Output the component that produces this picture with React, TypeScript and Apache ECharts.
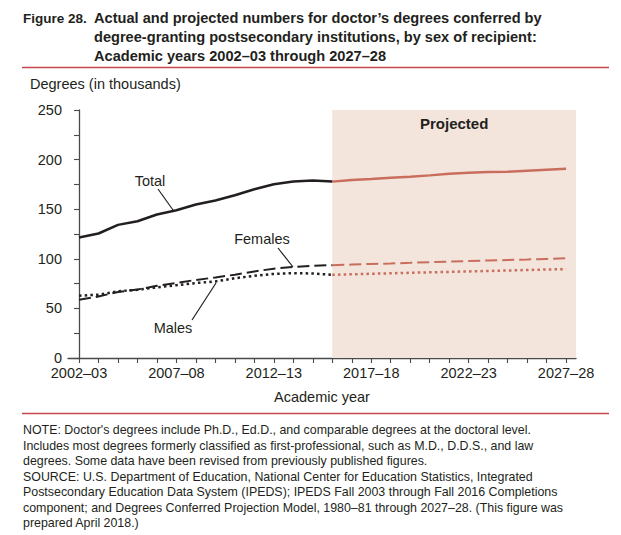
import React, { useEffect, useRef } from "react";
import * as echarts from "echarts";

const years = [
  "2002–03", "2003–04", "2004–05", "2005–06", "2006–07", "2007–08", "2008–09",
  "2009–10", "2010–11", "2011–12", "2012–13", "2013–14", "2014–15", "2015–16",
  "2016–17", "2017–18", "2018–19", "2019–20", "2020–21", "2021–22", "2022–23",
  "2023–24", "2024–25", "2025–26", "2026–27", "2027–28",
];
const labeledYears = ["2002–03", "2007–08", "2012–13", "2017–18", "2022–23", "2027–28"];

// actual: 2002–03 .. 2015–16 ; projected: 2015–16 .. 2027–28 (thousands)
const totalActual = [121.5, 125.5, 134.2, 137.8, 144.7, 148.9, 154.8, 158.8, 164.0, 170.1, 175.2, 178.0, 178.9, 177.8];
const femalesActual = [58.7, 62.0, 66.6, 69.0, 72.8, 75.7, 78.7, 81.2, 84.0, 87.3, 90.0, 91.8, 93.0, 93.6];
const malesActual = [62.8, 63.8, 67.2, 68.8, 71.2, 73.4, 75.6, 77.2, 80.4, 82.9, 84.8, 85.5, 85.2, 83.8];
const totalProjected = [177.8, 179.4, 180.4, 181.8, 182.8, 184.1, 185.8, 186.8, 187.5, 187.8, 188.8, 189.8, 190.8];
const femalesProjected = [93.6, 94.2, 94.8, 95.3, 95.9, 96.6, 97.2, 97.7, 98.3, 98.8, 99.3, 99.9, 100.5];
const malesProjected = [83.8, 84.4, 84.9, 85.4, 85.9, 86.4, 86.8, 87.3, 87.7, 88.2, 88.7, 89.2, 89.6];

const titleLines = [
  "Actual and projected numbers for doctor’s degrees conferred by",
  "degree-granting postsecondary institutions, by sex of recipient:",
  "Academic years 2002–03 through 2027–28",
];
const noteLines = [
  "NOTE: Doctor's degrees include Ph.D., Ed.D., and comparable degrees at the doctoral level.",
  "Includes most degrees formerly classified as first-professional, such as M.D., D.D.S., and law",
  "degrees. Some data have been revised from previously published figures.",
  "SOURCE: U.S. Department of Education, National Center for Education Statistics, Integrated",
  "Postsecondary Education Data System (IPEDS); IPEDS Fall 2003 through Fall 2016 Completions",
  "component; and Degrees Conferred Projection Model, 1980–81 through 2027–28. (This figure was",
  "prepared April 2018.)",
];

const FONT = "'Liberation Sans', Arial, Helvetica, sans-serif";
const INK = "#231f20";
const PROJ = "#c96d5c";
const RULE = "#c5474e";
const AXIS = "#4a4a4a";
const X_MIN = -0.565;
const X_MAX = 25.51;
const PROJ_START = totalActual.length - 1;
const AX_FS = 14.5;

function pairs(values: number[], offset: number) {
  return values.map((v, i) => [i + offset, v]);
}

export default function App() {
  const ref = useRef<HTMLDivElement>(null);
  useEffect(() => {
    if (!ref.current) return;
    const chart = echarts.init(ref.current, null, { renderer: "svg" });
    const lineSeries = (
      name: string,
      values: number[],
      offset: number,
      color: string,
      type: any,
      width: number,
      extra: any = {}
    ) => ({
      type: "line",
      name,
      data: pairs(values, offset),
      showSymbol: false,
      symbol: "none",
      smooth: false,
      lineStyle: { color, width, type, cap: "butt" },
      z: 3,
      ...extra,
    });
    const graphics: any[] = [];
    graphics.push({
      type: "text",
      x: 23,
      y: 18,
      style: { text: "Figure 28.", font: `bold 13.5px ${FONT}`, fill: INK, verticalAlign: "middle" },
    });
    titleLines.forEach((t, i) => {
      graphics.push({
        type: "text",
        x: 94,
        y: 18 + i * 19,
        style: { text: t, font: `bold 14.6px ${FONT}`, fill: INK, verticalAlign: "middle" },
      });
    });
    graphics.push({
      type: "line",
      shape: { x1: 22, y1: 67.5, x2: 609, y2: 67.5 },
      style: { stroke: RULE, lineWidth: 1.3 },
    });
    graphics.push({
      type: "text",
      x: 30,
      y: 84,
      style: { text: "Degrees (in thousands)", font: `${AX_FS}px ${FONT}`, fill: INK, verticalAlign: "middle" },
    });
    graphics.push({
      type: "text",
      x: 322,
      y: 397,
      style: { text: "Academic year", font: `${AX_FS}px ${FONT}`, fill: INK, align: "center", verticalAlign: "middle" },
    });
    graphics.push({
      type: "line",
      shape: { x1: 22, y1: 413.5, x2: 609, y2: 413.5 },
      style: { stroke: RULE, lineWidth: 1.3 },
    });
    noteLines.forEach((t, i) => {
      graphics.push({
        type: "text",
        x: 23,
        y: 430 + i * 15.5,
        style: { text: t, font: `12.4px ${FONT}`, fill: INK, verticalAlign: "middle" },
      });
    });
    // series annotations
    const ann = [
      { text: "Total", x: 150, y: 181, lx1: 158, ly1: 189, lx2: 173, ly2: 210 },
      { text: "Females", x: 262, y: 239, lx1: 278, ly1: 248, lx2: 293, ly2: 267 },
      { text: "Males", x: 173, y: 328, lx1: 192, ly1: 320, lx2: 216, ly2: 283 },
    ];
    ann.forEach((a) => {
      graphics.push({
        type: "text",
        x: a.x,
        y: a.y,
        z: 10,
        style: { text: a.text, font: `${AX_FS}px ${FONT}`, fill: INK, align: "center", verticalAlign: "middle" },
      });
      graphics.push({
        type: "line",
        z: 10,
        shape: { x1: a.lx1, y1: a.ly1, x2: a.lx2, y2: a.ly2 },
        style: { stroke: INK, lineWidth: 1.2 },
      });
    });

    chart.setOption({
      animation: false,
      backgroundColor: "#ffffff",
      textStyle: { fontFamily: FONT },
      grid: { left: 68, right: 45, top: 110, bottom: 177, containLabel: false },
      xAxis: {
        type: "value",
        min: X_MIN,
        max: X_MAX,
        splitLine: { show: false },
        axisLine: { show: true, lineStyle: { color: AXIS, width: 1.3 } },
        axisTick: {
          show: true,
          length: 5,
          inside: false,
          lineStyle: { color: AXIS, width: 1.1 },
          customValues: years.map((_, i) => i),
        },
        axisLabel: {
          show: true,
          margin: 7,
          fontSize: AX_FS,
          color: INK,
          fontFamily: FONT,
          customValues: labeledYears.map((y) => years.indexOf(y)),
          formatter: (v: number) => years[Math.round(v)] ?? "",
        },
      },
      yAxis: {
        type: "value",
        min: 0,
        max: 250,
        interval: 25,
        splitLine: { show: false },
        axisLine: { show: true, lineStyle: { color: AXIS, width: 1.3 } },
        axisTick: { show: true, length: 5, inside: false, lineStyle: { color: AXIS, width: 1.1 } },
        axisLabel: {
          margin: 6,
          fontSize: AX_FS,
          color: INK,
          fontFamily: FONT,
          formatter: (v: number) => (v % 50 === 0 ? String(v) : ""),
        },
      },
      series: [
        lineSeries("Total (projected)", totalProjected, PROJ_START, PROJ, "solid", 2.5, {
          markArea: {
            silent: true,
            itemStyle: { color: "#f3e4dc" },
            label: {
              show: true,
              position: "insideTop",
              distance: 6,
              fontSize: 15,
              fontWeight: "bold",
              color: INK,
              fontFamily: FONT,
            },
            data: [[{ name: "Projected", xAxis: PROJ_START }, { xAxis: X_MAX }]],
          },
        }),
        lineSeries("Females (projected)", femalesProjected, PROJ_START, PROJ, [12, 5], 2),
        lineSeries("Males (projected)", malesProjected, PROJ_START, PROJ, [2.5, 3.2], 2.5),
        lineSeries("Total", totalActual, 0, INK, "solid", 2.5),
        lineSeries("Females", femalesActual, 0, INK, [12, 5], 2),
        lineSeries("Males", malesActual, 0, INK, [2.5, 3.2], 2.5),
      ],
      graphic: graphics,
    });
    return () => chart.dispose();
  }, []);
  return (
    <div
      ref={ref}
      style={{ position: "fixed", left: 0, top: 0, width: 621, height: 535, background: "#fff" }}
    />
  );
}
